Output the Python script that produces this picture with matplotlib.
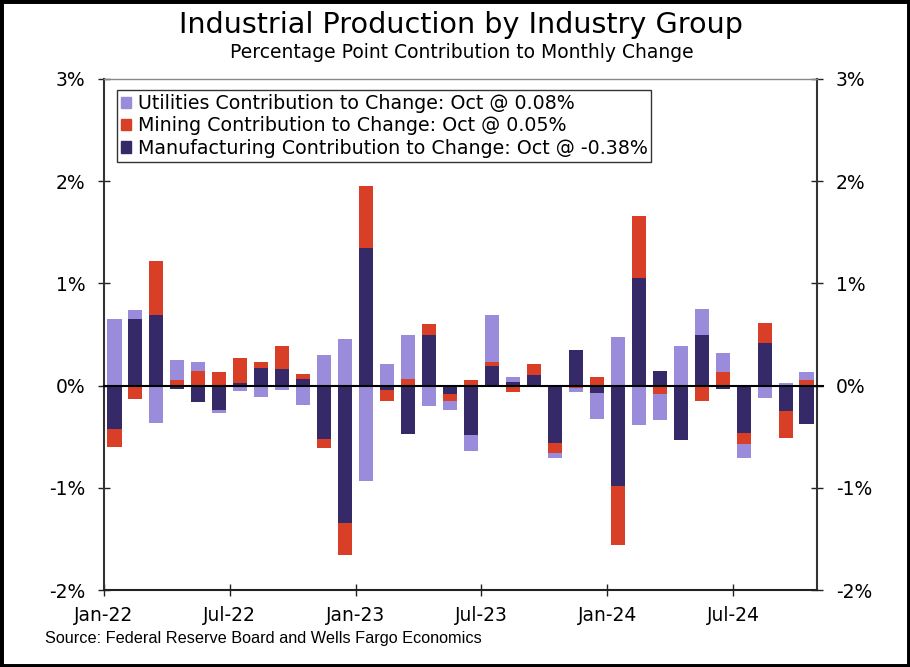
import numpy as np
import matplotlib
matplotlib.use('Agg')
import matplotlib.pyplot as plt
from matplotlib.patches import Rectangle

# monthly contributions, Jan-22 .. Oct-24 (percentage points)
months = ['Jan-22', 'Feb-22', 'Mar-22', 'Apr-22', 'May-22', 'Jun-22', 'Jul-22', 'Aug-22',
          'Sep-22', 'Oct-22', 'Nov-22', 'Dec-22', 'Jan-23', 'Feb-23', 'Mar-23', 'Apr-23',
          'May-23', 'Jun-23', 'Jul-23', 'Aug-23', 'Sep-23', 'Oct-23', 'Nov-23', 'Dec-23',
          'Jan-24', 'Feb-24', 'Mar-24', 'Apr-24', 'May-24', 'Jun-24', 'Jul-24', 'Aug-24',
          'Sep-24', 'Oct-24']
manufacturing = [-0.42, 0.65, 0.69, -0.03, -0.16, -0.24, 0.03, 0.17,
                 0.16, 0.06, -0.52, -1.34, 1.35, -0.04, -0.47, 0.50,
                 -0.08, -0.48, 0.19, 0.04, 0.10, -0.56, 0.345, -0.07,
                 -0.98, 1.05, 0.14, -0.53, 0.50, -0.035, -0.46, 0.42,
                 -0.25, -0.38]
mining = [-0.18, -0.13, 0.53, 0.05, 0.14, 0.13, 0.24, 0.06,
          0.23, 0.05, -0.09, -0.32, 0.60, -0.11, 0.06, 0.10,
          -0.075, 0.055, 0.045, -0.06, 0.11, -0.10, -0.02, 0.085,
          -0.58, 0.61, -0.08, -0.005, -0.15, 0.13, -0.11, 0.19,
          -0.26, 0.05]
utilities = [0.65, 0.09, -0.37, 0.20, 0.09, -0.03, -0.055, -0.11,
             -0.04, -0.19, 0.30, 0.46, -0.93, 0.21, 0.44, -0.20,
             -0.08, -0.16, 0.46, 0.04, 0.0, -0.05, -0.045, -0.26,
             0.48, -0.39, -0.26, 0.39, 0.25, 0.19, -0.14, -0.12,
             0.03, 0.08]
tick_pos = [0, 6, 12, 18, 24, 30]
tick_labels = ['Jan-22', 'Jul-22', 'Jan-23', 'Jul-23', 'Jan-24', 'Jul-24']
y_ticks = [-2, -1, 0, 1, 2, 3]

c_util = '#9B8CDB'
c_mine = '#D93F26'
c_manu = '#352A67'

fig = plt.figure(figsize=(9.1, 6.67), dpi=100)
ax = fig.add_axes([104/910, 77/667, 713/910, 511/667])

x = np.arange(len(months)) + 0.5
w = 0.67
series = [(manufacturing, c_manu), (mining, c_mine), (utilities, c_util)]
pos_base = np.zeros(len(months))
neg_base = np.zeros(len(months))
for vals, col in series:
    v = np.array(vals)
    bottoms = np.where(v >= 0, pos_base, neg_base)
    ax.bar(x, v, width=w, bottom=bottoms, color=col, linewidth=0)
    pos_base = pos_base + np.clip(v, 0, None)
    neg_base = neg_base + np.clip(v, None, 0)

# zero line runs a little past the right spine
ax.plot([0, len(months) + 0.3], [0, 0], color='black', lw=1.5, zorder=3, clip_on=False)
ax.set_xlim(0, len(months))
ax.set_ylim(-2, 3)
ax.set_xticks(tick_pos)
ax.set_xticklabels(tick_labels)
ax.set_yticks(y_ticks)
ax.set_yticklabels(['%d%%' % t for t in y_ticks])
ax.tick_params(axis='y', direction='inout', length=9, width=1, right=True, labelright=True,
               labelsize=13.5, pad=9, color='#222222')
ax.tick_params(axis='x', direction='inout', length=9, width=1, labelsize=13.5, pad=7,
               color='#222222')
for s in ['left', 'right']:
    ax.spines[s].set_color('#333333')
    ax.spines[s].set_linewidth(1.5)
ax.spines['bottom'].set_color('#222222')
ax.spines['bottom'].set_linewidth(1.5)
ax.spines['top'].set_color('#888888')
ax.spines['top'].set_linewidth(1)

handles = [Rectangle((0, 0), 1, 1, color=c) for c in (c_util, c_mine, c_manu)]
labels = ['Utilities Contribution to Change: Oct @ 0.08%',
          'Mining Contribution to Change: Oct @ 0.05%',
          'Manufacturing Contribution to Change: Oct @ -0.38%']
leg = ax.legend(handles, labels, loc='upper left', bbox_to_anchor=(0.018, 0.978),
                fontsize=13.7, frameon=True, fancybox=False, handlelength=0.55,
                handleheight=0.55, handletextpad=0.35, borderpad=0.2, labelspacing=0.18,
                borderaxespad=0)
leg.get_frame().set_edgecolor('black')
leg.get_frame().set_linewidth(1)

fig.text(0.507, 0.962, 'Industrial Production by Industry Group', ha='center', va='center',
         fontsize=20.6)
fig.text(0.507, 0.922, 'Percentage Point Contribution to Monthly Change', ha='center',
         va='center', fontsize=13.5)
fig.text(45/910, 1 - 638/667, 'Source: Federal Reserve Board and Wells Fargo Economics',
         ha='left', va='center', fontsize=11.7, family='Liberation Sans')

fig.patches.append(Rectangle((0, 0), 1, 1, transform=fig.transFigure, fill=False,
                             edgecolor='black', linewidth=5))

fig.savefig('out.png', dpi=100)
